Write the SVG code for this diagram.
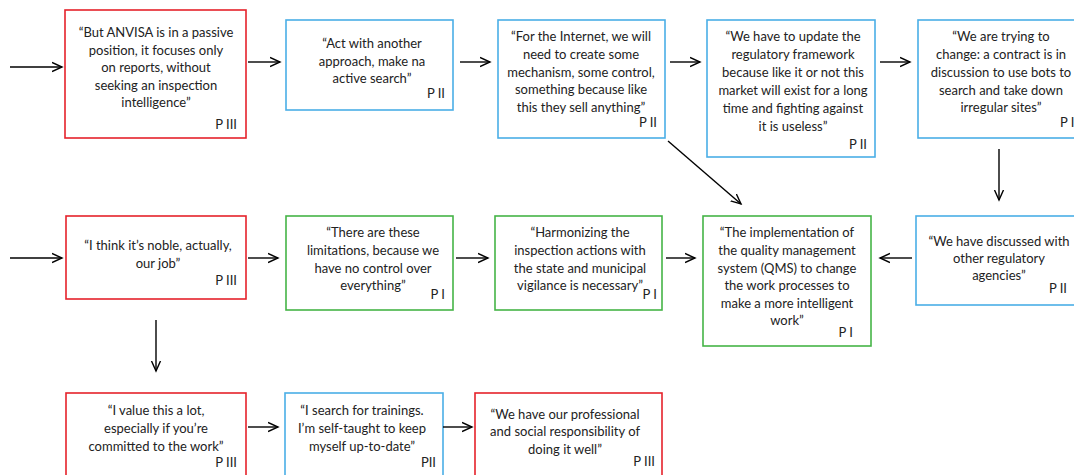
<svg xmlns="http://www.w3.org/2000/svg" width="1074" height="475" viewBox="0 0 1074 475">
<defs>
<marker id="ah" markerUnits="userSpaceOnUse" markerWidth="12" markerHeight="12" refX="10" refY="5" orient="auto" viewBox="0 0 12 10">
<path d="M0,0.5 L10,5 L0,9.5" fill="none" stroke="#000" stroke-width="1.4"/>
</marker>
<style>
.r{fill:#fff;stroke:#e5222b;stroke-width:1.6}
.b{fill:#fff;stroke:#4aaee6;stroke-width:1.6}
.g{fill:#fff;stroke:#45b447;stroke-width:1.6}
text{font-family:Lato,"Liberation Sans",sans-serif;font-size:13px;fill:#222}
.c{text-anchor:middle}
.p{text-anchor:end}
.cn line{stroke:#000;stroke-width:1.4;marker-end:url(#ah)}
</style>
</defs>
<rect width="1074" height="475" fill="#fff"/>
<g id="n1"><rect class="r" x="65" y="10" width="181" height="128"/>
<text class="c" x="156" y="37">“But ANVISA is in a passive</text>
<text class="c" x="156" y="54.5">position, it focuses only</text>
<text class="c" x="156" y="72">on reports, without</text>
<text class="c" x="156" y="89.5">seeking an inspection</text>
<text class="c" x="156" y="107">intelligence”</text>
<text class="p" x="237" y="129">P III</text></g>
<g id="n2"><rect class="b" x="286" y="20" width="167" height="90"/>
<text class="c" x="372" y="48">“Act with another</text>
<text class="c" x="372" y="66">approach, make na</text>
<text class="c" x="372" y="83">active search”</text>
<text class="p" x="445" y="98">P II</text></g>
<g id="n3"><rect class="b" x="498" y="20" width="167" height="118"/>
<text class="c" x="581" y="41">“For the Internet, we will</text>
<text class="c" x="581" y="59">need to create some</text>
<text class="c" x="581" y="77">mechanism, some control,</text>
<text class="c" x="581" y="94">something because like</text>
<text class="c" x="581" y="112">this they sell anything”</text>
<text class="p" x="657" y="127">P II</text></g>
<g id="n4"><rect class="b" x="707" y="20" width="168" height="137"/>
<text class="c" x="793" y="41">“We have to update the</text>
<text class="c" x="793" y="59">regulatory framework</text>
<text class="c" x="793" y="77">because like it or not this</text>
<text class="c" x="793" y="95">market will exist for a long</text>
<text class="c" x="793" y="113">time and fighting against</text>
<text class="c" x="793" y="131">it is useless”</text>
<text class="p" x="867" y="149">P II</text></g>
<g id="n5"><rect class="b" x="918" y="20" width="166" height="118"/>
<text class="c" x="1001" y="41">“We are trying to</text>
<text class="c" x="1001" y="59">change: a contract is in</text>
<text class="c" x="1001" y="77">discussion to use bots to</text>
<text class="c" x="1001" y="95">search and take down</text>
<text class="c" x="1001" y="112">irregular sites”</text>
<text x="1060" y="127">P I</text></g>
<g id="n6"><rect class="r" x="66" y="216" width="180" height="83"/>
<text class="c" x="158" y="250">“I think it’s noble, actually,</text>
<text class="c" x="158" y="268">our job”</text>
<text class="p" x="237" y="285">P III</text></g>
<g id="n7"><rect class="g" x="286" y="216" width="167" height="94"/>
<text class="c" x="373" y="237">“There are these</text>
<text class="c" x="373" y="255">limitations, because we</text>
<text class="c" x="373" y="273">have no control over</text>
<text class="c" x="373" y="290">everything”</text>
<text class="p" x="445" y="299">P I</text></g>
<g id="n8"><rect class="g" x="495" y="216" width="167" height="94"/>
<text class="c" x="580" y="237">“Harmonizing the</text>
<text class="c" x="580" y="255">inspection actions with</text>
<text class="c" x="580" y="273">the state and municipal</text>
<text class="c" x="580" y="290">vigilance is necessary”</text>
<text class="p" x="657" y="299">P I</text></g>
<g id="n9"><rect class="g" x="703" y="216" width="168" height="130"/>
<text class="c" x="787" y="237">“The implementation of</text>
<text class="c" x="787" y="255">the quality management</text>
<text class="c" x="787" y="273">system (QMS) to change</text>
<text class="c" x="787" y="290">the work processes to</text>
<text class="c" x="787" y="308">make a more intelligent</text>
<text class="c" x="787" y="325">work”</text>
<text class="p" x="853" y="337">P I</text></g>
<g id="n10"><rect class="b" x="916" y="216" width="168" height="89"/>
<text class="c" x="999" y="246">“We have discussed with</text>
<text class="c" x="999" y="263">other regulatory</text>
<text class="c" x="999" y="280">agencies”</text>
<text class="p" x="1067" y="293">P II</text></g>
<g id="n11"><rect class="r" x="66" y="393" width="180" height="90"/>
<text class="c" x="156" y="415">“I value this a lot,</text>
<text class="c" x="156" y="433">especially if you’re</text>
<text class="c" x="156" y="451">committed to the work”</text>
<text class="p" x="237" y="467">P III</text></g>
<g id="n12"><rect class="b" x="285" y="393" width="158" height="90"/>
<text class="c" x="362" y="415">“I search for trainings.</text>
<text class="c" x="362" y="433">I’m self-taught to keep</text>
<text class="c" x="362" y="451">myself up-to-date”</text>
<text class="p" x="436" y="467">PII</text></g>
<g id="n13"><rect class="r" x="475" y="393" width="187" height="90"/>
<text class="c" x="565" y="419">“We have our professional</text>
<text class="c" x="565" y="436">and social responsibility of</text>
<text class="c" x="565" y="454">doing it well”</text>
<text class="p" x="655" y="466">P III</text></g>
<g id="connectors" class="cn">
<line x1="10" y1="67" x2="62" y2="67"/>
<line x1="248" y1="62" x2="280" y2="62"/>
<line x1="460" y1="62" x2="490" y2="62"/>
<line x1="670" y1="62" x2="700" y2="62"/>
<line x1="880" y1="62" x2="910" y2="62"/>
<line x1="668" y1="141" x2="741" y2="204"/>
<line x1="999" y1="149" x2="999" y2="200"/>
<line x1="10" y1="258" x2="62" y2="258"/>
<line x1="248" y1="258" x2="278" y2="258"/>
<line x1="456" y1="258" x2="488" y2="258"/>
<line x1="666" y1="258" x2="695" y2="258"/>
<line x1="912" y1="258" x2="880" y2="258"/>
<line x1="156" y1="320" x2="156" y2="371"/>
<line x1="248" y1="427" x2="278" y2="427"/>
<line x1="443" y1="427" x2="472" y2="427"/>
</g>
</svg>
